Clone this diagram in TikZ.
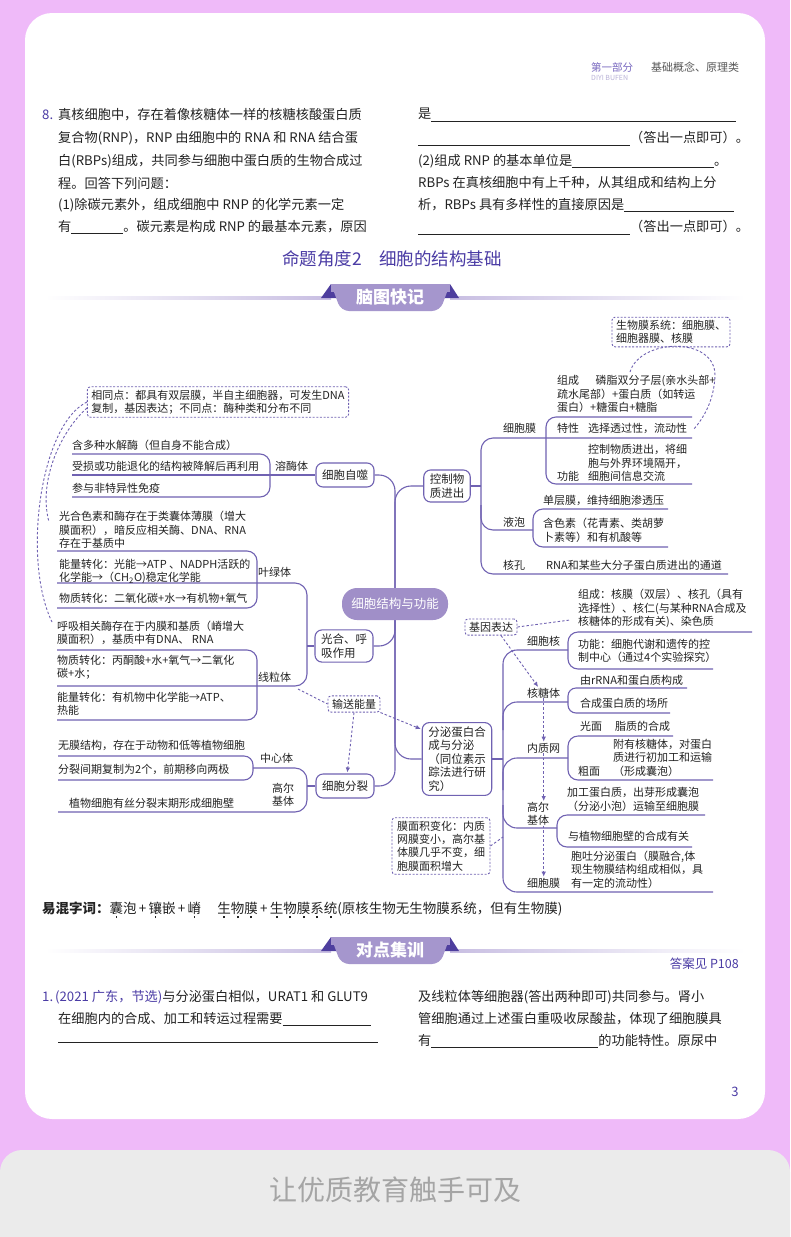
\documentclass[tikz,border=0pt]{standalone}
\usepackage{fontspec}
\setmainfont{Noto Sans CJK SC}
\usetikzlibrary{arrows.meta}

\definecolor{pagepink}{RGB}{239,186,249}
\definecolor{footgray}{RGB}{235,235,235}
\definecolor{foottext}{RGB}{165,165,165}
\definecolor{deeppurple}{RGB}{75,60,165}
\definecolor{headpurple}{RGB}{120,104,192}
\definecolor{diyi}{RGB}{185,178,215}
\definecolor{headgray}{RGB}{85,85,85}
\definecolor{mmline}{RGB}{112,98,178}
\definecolor{hubfill}{RGB}{160,143,200}
\definecolor{bandfill}{RGB}{165,150,205}
\definecolor{banddark}{RGB}{78,62,158}
\definecolor{bandline}{RGB}{200,190,226}
\definecolor{inktext}{RGB}{35,35,35}

\newcommand{\leaffont}{\fontsize{11}{13.4}\selectfont}
\newcommand{\bodyfont}{\fontsize{13.2}{22.5}\selectfont}
\newcommand{\blank}[1]{\rule[-3pt]{#1pt}{0.6pt}}
\newcommand{\zdot}[1]{\ooalign{#1\cr\hidewidth\raisebox{-4.5pt}{\rule{1.8pt}{1.8pt}}\hidewidth\cr}}

\tikzset{
  ln/.style={draw=mmline, line width=1.1pt, rounded corners=10pt},
  hub/.style={draw=mmline, line width=1.1pt, rounded corners=7pt, fill=white, text=inktext, align=left, inner xsep=6pt, inner ysep=4pt, minimum height=24pt, font=\fontsize{11.5}{13.5}\selectfont},
  core/.style={fill=hubfill, text=white, rounded corners=15pt, minimum width=106pt, minimum height=32pt, font=\fontsize{12.5}{14}\selectfont},
  leaf/.style={anchor=west, inner sep=0pt, align=left, text=inktext, font=\leaffont},
  dbox/.style={draw=mmline, line width=0.9pt, dash pattern=on 2pt off 1.6pt, rounded corners=3pt, fill=white, text=inktext, align=left, inner xsep=4pt, inner ysep=3pt, font=\leaffont},
  dline/.style={draw=mmline, line width=0.9pt, dash pattern=on 2.5pt off 2pt},
  darr/.style={dline, -{Latex[length=5pt,width=4.5pt]}, shorten >=1pt},
  body/.style={anchor=west, inner sep=0pt, text=inktext, font=\bodyfont}
}

\begin{document}
\begin{tikzpicture}[x=1pt,y=-1pt]
\useasboundingbox (0,0) rectangle (790,1237);
\fill[pagepink] (0,0) rectangle (790,1237);
\fill[white, rounded corners=27pt] (25,13) rectangle (765,1119);
\fill[footgray, rounded corners=22pt] (0,1150) rectangle (790,1290);
\node[text=foottext, font=\fontsize{28}{30}\selectfont] (slogan) at (395,1190) {让优质教育触手可及};

% header
\node[anchor=west, inner sep=0pt, text=headpurple, font=\fontsize{10.5}{12}\selectfont] (part) at (591,67) {第一部分};
\node[anchor=north west, inner sep=0pt, text=diyi, font=\fontsize{7}{8}\selectfont] (pinyin) at (591,75) {DIYI BUFEN};
\node[anchor=west, inner sep=0pt, text=headgray, font=\fontsize{11}{12}\selectfont] (kind) at (651,67) {基础概念、原理类};

% question 8
\node[body, text=deeppurple] (q8) at (42,115) {8.};
\node[body] (q8a) at (58,115) {真核细胞中，存在着像核糖体一样的核糖核酸蛋白质};
\node[body] (q8b) at (58,138) {复合物(RNP)，RNP 由细胞中的 RNA 和 RNA 结合蛋};
\node[body] (q8c) at (58,161) {白(RBPs)组成，共同参与细胞中蛋白质的生物合成过};
\node[body] (q8d) at (58,183) {程。回答下列问题：};
\node[body] (q8e) at (58,205) {(1)除碳元素外，组成细胞中 RNP 的化学元素一定};
\node[body] (q8f) at (58,227) {有\blank{52}。碳元素是构成 RNP 的最基本元素，原因};
\node[body] (q8g) at (418,115) {是\blank{305}};
\node[body] (q8h) at (418,138) {\blank{212}（答出一点即可）。};
\node[body] (q8i) at (418,161) {(2)组成 RNP 的基本单位是\blank{142}。};
\node[body] (q8j) at (418,183) {RBPs 在真核细胞中有上千种，从其组成和结构上分};
\node[body] (q8k) at (418,205) {析，RBPs 具有多样性的直接原因是\blank{110}};
\node[body] (q8l) at (418,227) {\blank{212}（答出一点即可）。};

\node[text=deeppurple, font=\fontsize{17.5}{20}\selectfont] (title) at (392,259) {命题角度2\hspace{1em}细胞的结构基础};

% banner 1
\shade[left color=white, right color=bandline] (45,296.5) rectangle (331,299.5);
\shade[left color=bandline, right color=white] (450,296.5) rectangle (745,299.5);
\fill[banddark] (321,298) -- (331,284) -- (338,298) -- cycle;
\fill[banddark] (443,298) -- (450,284) -- (459,298) -- cycle;
\fill[bandfill, rounded corners=8pt] (331,284) -- (450,284) -- (440,311) -- (341,311) -- cycle;
\fill[bandfill] (331,284) rectangle (450,292);
\node[text=white, font=\bfseries\fontsize{17}{18}\selectfont] (band1) at (390,297) {脑图快记};

% mind map hubs
\node[hub] (zs) at (345,475) {细胞自噬};
\node[hub] (kz) at (447,486) {控制物\\质进出};
\node[hub] (gh) at (344,646) {光合、呼\\吸作用};
\node[hub] (fl) at (345,786) {细胞分裂};
\node[hub] (fm) at (457,759) {分泌蛋白合\\成与分泌\\（同位素示\\踪法进行研\\究）};
\coordinate (mid) at (395,604);
\draw[ln, rounded corners=16pt] (zs.east) -| (mid);
\draw[ln, rounded corners=16pt] (kz.west) -| (mid);
\draw[ln, rounded corners=16pt] (gh.east) -| (mid);
\draw[ln, rounded corners=16pt] (fl.east) -| (mid);
\draw[ln, rounded corners=16pt] (fm.west) -| (mid);
\node[core] (core) at (mid) {细胞结构与功能};

% control of exchange
\draw[ln] (kz.east) -- (481,486);
\draw[ln, rounded corners=12pt] (692,438) -| (481,574) -- (728,574);
\draw[ln, rounded corners=12pt] (481,505) |- (533,530);
\draw[ln] (692,417) -| (546,484) -- (692,484);
\draw[ln] (668,509) -| (533,547) -- (668,547);
\node[leaf] (xbm) at (503,428) {细胞膜};
\node[leaf] (zc) at (557,394) {组成\hspace{1.5em}磷脂双分子层(亲水头部+\\疏水尾部）+蛋白质（如转运\\蛋白）+糖蛋白+糖脂};
\node[leaf] (tx) at (557,428) {特性};
\node[leaf] (txa) at (588,428) {选择透过性，流动性};
\node[leaf] (gn) at (557,476) {功能};
\node[leaf] (gna) at (588,463) {控制物质进出，将细\\胞与外界环境隔开，\\细胞间信息交流};
\node[leaf] (yp) at (503,522) {液泡};
\node[leaf] (ypa) at (543,500) {单层膜，维持细胞渗透压};
\node[leaf] (ypb) at (543,530.5) {含色素（花青素、类胡萝\\卜素等）和有机酸等};
\node[leaf] (hk) at (503,565) {核孔};
\node[leaf] (hka) at (546,565) {RNA和某些大分子蛋白质进出的通道};
\node[dbox] (sw) at (671,332) {生物膜系统：细胞膜、\\细胞器膜、核膜};
\draw[dline] (630,372) .. controls (640,338) and (716,336) .. (715,376) .. controls (714,400) and (704,418) .. (693,430);

% autophagy
\draw[ln] (72,454) -| (270,497) -- (72,497);
\draw[ln] (72,475) -- (zs.west);
\node[leaf] (rmt) at (275,466) {溶酶体};
\node[leaf] (rma) at (72,445) {含多种水解酶（但自身不能合成）};
\node[leaf] (rmb) at (72,466) {受损或功能退化的结构被降解后再利用};
\node[leaf] (rmc) at (72,488) {参与非特异性免疫};
\node[dbox] (xt) at (218,402) {相同点：都具有双层膜，半自主细胞器，可发生DNA\\复制，基因表达；不同点：酶种类和分布不同};
\draw[dline] (xt.west) .. controls (40,425) and (22,560) .. (52,622);
\draw[dline] ([yshift=-6pt]xt.west) .. controls (60,432) and (38,482) .. (49,522);

% photosynthesis and respiration
\draw[ln] (57,551) -| (257,608) -- (57,608);
\draw[ln, rounded corners=12pt] (57,583) -| (307,686) -- (57,686);
\draw[ln] (57,650) -| (257,720) -- (57,720);
\draw[ln] (gh.west) -- (307,646);
\node[leaf] (ylt) at (258,572) {叶绿体};
\node[leaf] (yla) at (59,530) {光合色素和酶存在于类囊体薄膜（增大\\膜面积），暗反应相关酶、DNA、RNA\\存在于基质中};
\node[leaf] (ylb) at (59,571.5) {能量转化：光能→ATP 、NADPH活跃的\\化学能→（CH\textsubscript{2}O)稳定化学能};
\node[leaf] (ylc) at (59,598) {物质转化：二氧化碳+水→有机物+氧气};
\node[leaf] (xlt) at (258,677) {线粒体};
\node[leaf] (xla) at (57,633) {呼吸相关酶存在于内膜和基质（嵴增大\\膜面积），基质中有DNA、 RNA};
\node[leaf] (xlb) at (57,667.5) {物质转化：丙酮酸+水+氧气→二氧化\\碳+水；};
\node[leaf] (xlc) at (57,703.5) {能量转化：有机物中化学能→ATP、\\热能};
\node[dbox] (sn) at (354,704) {输送能量};
\draw[dline] (298,689) -- (sn.west);
\draw[darr] (sn.south east) -- (fm.140);
\draw[darr] (sn.south) -- (fl.80);

% cell division
\draw[ln, rounded corners=12pt] (253,768) -| (307,812) -- (58,812);
\draw[ln, rounded corners=9pt] (58,756) -| (253,780) -- (58,780);
\draw[ln] (fl.west) -- (307,786);
\node[leaf] (zxt) at (260,758) {中心体};
\node[leaf] (zxa) at (58,745) {无膜结构，存在于动物和低等植物细胞};
\node[leaf] (zxb) at (58,769) {分裂间期复制为2个，前期移向两极};
\node[leaf] (gat) at (272,795) {高尔\\基体};
\node[leaf] (gaa) at (69,803) {植物细胞有丝分裂末期形成细胞壁};

% secretion
\draw[ln] (fm.east) -- (503,759);
\draw[ln, rounded corners=14pt] (568,650) -| (503,892) -- (713,892);
\draw[ln, rounded corners=14pt] (503,730) |- (568,702);
\draw[ln, rounded corners=14pt] (503,790) |- (568,758);
\draw[ln, rounded corners=14pt] (503,805) |- (557,828);
\draw[ln] (752,632) -| (568,669) -- (713,669);
\draw[ln, rounded corners=8pt] (687,688) -| (568,713) -- (670,713);
\draw[ln] (673,736) -| (568,780) -- (713,780);
\draw[ln] (705,815) -| (557,847) -- (692,847);
\node[leaf] (xbh) at (527,641) {细胞核};
\node[leaf] (xbha) at (578,608.5) {组成：核膜（双层）、核孔（具有\\选择性）、核仁(与某种RNA合成及\\核糖体的形成有关)、染色质};
\node[leaf] (xbhb) at (578,651) {功能：细胞代谢和遗传的控\\制中心（通过4个实验探究）};
\node[leaf] (hb) at (527,693) {核糖体};
\node[leaf] (hba) at (580,680) {由rRNA和蛋白质构成};
\node[leaf] (hbb) at (580,703) {合成蛋白质的场所};
\node[leaf] (nz) at (527,748) {内质网};
\node[leaf] (gm) at (580,726) {光面};
\node[leaf] (gma) at (615,726) {脂质的合成};
\node[leaf] (cma) at (613,757.5) {附有核糖体，对蛋白\\质进行初加工和运输\\（形成囊泡）};
\node[leaf] (cm) at (578,771) {粗面};
\node[leaf] (ge) at (527,814) {高尔\\基体};
\node[leaf] (gea) at (567,799.5) {加工蛋白质，出芽形成囊泡\\（分泌小泡）运输至细胞膜};
\node[leaf] (geb) at (568,836) {与植物细胞壁的合成有关};
\node[leaf] (xm) at (527,883) {细胞膜};
\node[leaf] (xma) at (571,869.5) {胞吐分泌蛋白（膜融合,体\\现生物膜结构组成相似，具\\有一定的流动性）};
\node[dbox] (jy) at (491,627) {基因表达};
\draw[dline] (jy.east) -- (570,620);
\draw[darr] ([xshift=10pt]jy.south) -- ([xshift=-5pt]hb.north);
\draw[darr] (hb.south) -- (hb.south |- nz.north);
\draw[darr] (nz.south) -- (nz.south |- ge.north);
\draw[darr] (ge.south -| nz.south) -- (nz.south |- xm.north);
\node[dbox, inner xsep=5pt] (mj) at (441,846) {膜面积变化：内质\\网膜变小，高尔基\\体膜几乎不变，细\\胞膜面积增大};
\draw[dline] (mj.east) -- (503,837);

% confusable words
\node[anchor=west, inner sep=0pt, text=inktext, font=\fontsize{13.5}{15}\selectfont] (yh) at (42,910) {\textbf{易混字词：}\zdot{囊}泡\,+\,\zdot{镶}嵌\,+\,\zdot{嵴}\hspace{1.2em}\zdot{生}\zdot{物}\zdot{膜}\,+\,\zdot{生}\zdot{物}\zdot{膜}\zdot{系}\zdot{统}(原核生物无生物膜系统，但有生物膜)};

% banner 2
\shade[left color=white, right color=bandline] (45,949.5) rectangle (331,952.5);
\shade[left color=bandline, right color=white] (450,949.5) rectangle (745,952.5);
\fill[banddark] (321,951) -- (331,937) -- (338,951) -- cycle;
\fill[banddark] (443,951) -- (450,937) -- (459,951) -- cycle;
\fill[bandfill, rounded corners=8pt] (331,937) -- (450,937) -- (440,964) -- (341,964) -- cycle;
\fill[bandfill] (331,937) rectangle (450,945);
\node[text=white, font=\bfseries\fontsize{17}{18}\selectfont] (band2) at (390,950) {对点集训};
\node[anchor=east, inner sep=0pt, text=deeppurple, font=\fontsize{12.5}{14}\selectfont] (ans) at (739,964) {答案见 P108};

% question 1
\node[body, text=deeppurple] (q1) at (42,997) {1.};
\node[body] (q1a) at (55,997) {\textcolor{deeppurple}{(2021 广东，节选)}与分泌蛋白相似，URAT1 和 GLUT9};
\node[body] (q1b) at (58,1019) {在细胞内的合成、加工和转运过程需要\blank{88}};
\node[body] (q1c) at (58,1041) {\blank{320}};
\node[body] (q1d) at (418,997) {及线粒体等细胞器(答出两种即可)共同参与。肾小};
\node[body] (q1e) at (418,1019) {管细胞通过上述蛋白重吸收尿酸盐，体现了细胞膜具};
\node[body] (q1f) at (418,1041) {有\blank{167}的功能特性。原尿中};

\node[text=deeppurple, font=\fontsize{13}{14}\selectfont] (pg) at (735,1092) {3};
\end{tikzpicture}
\end{document}
